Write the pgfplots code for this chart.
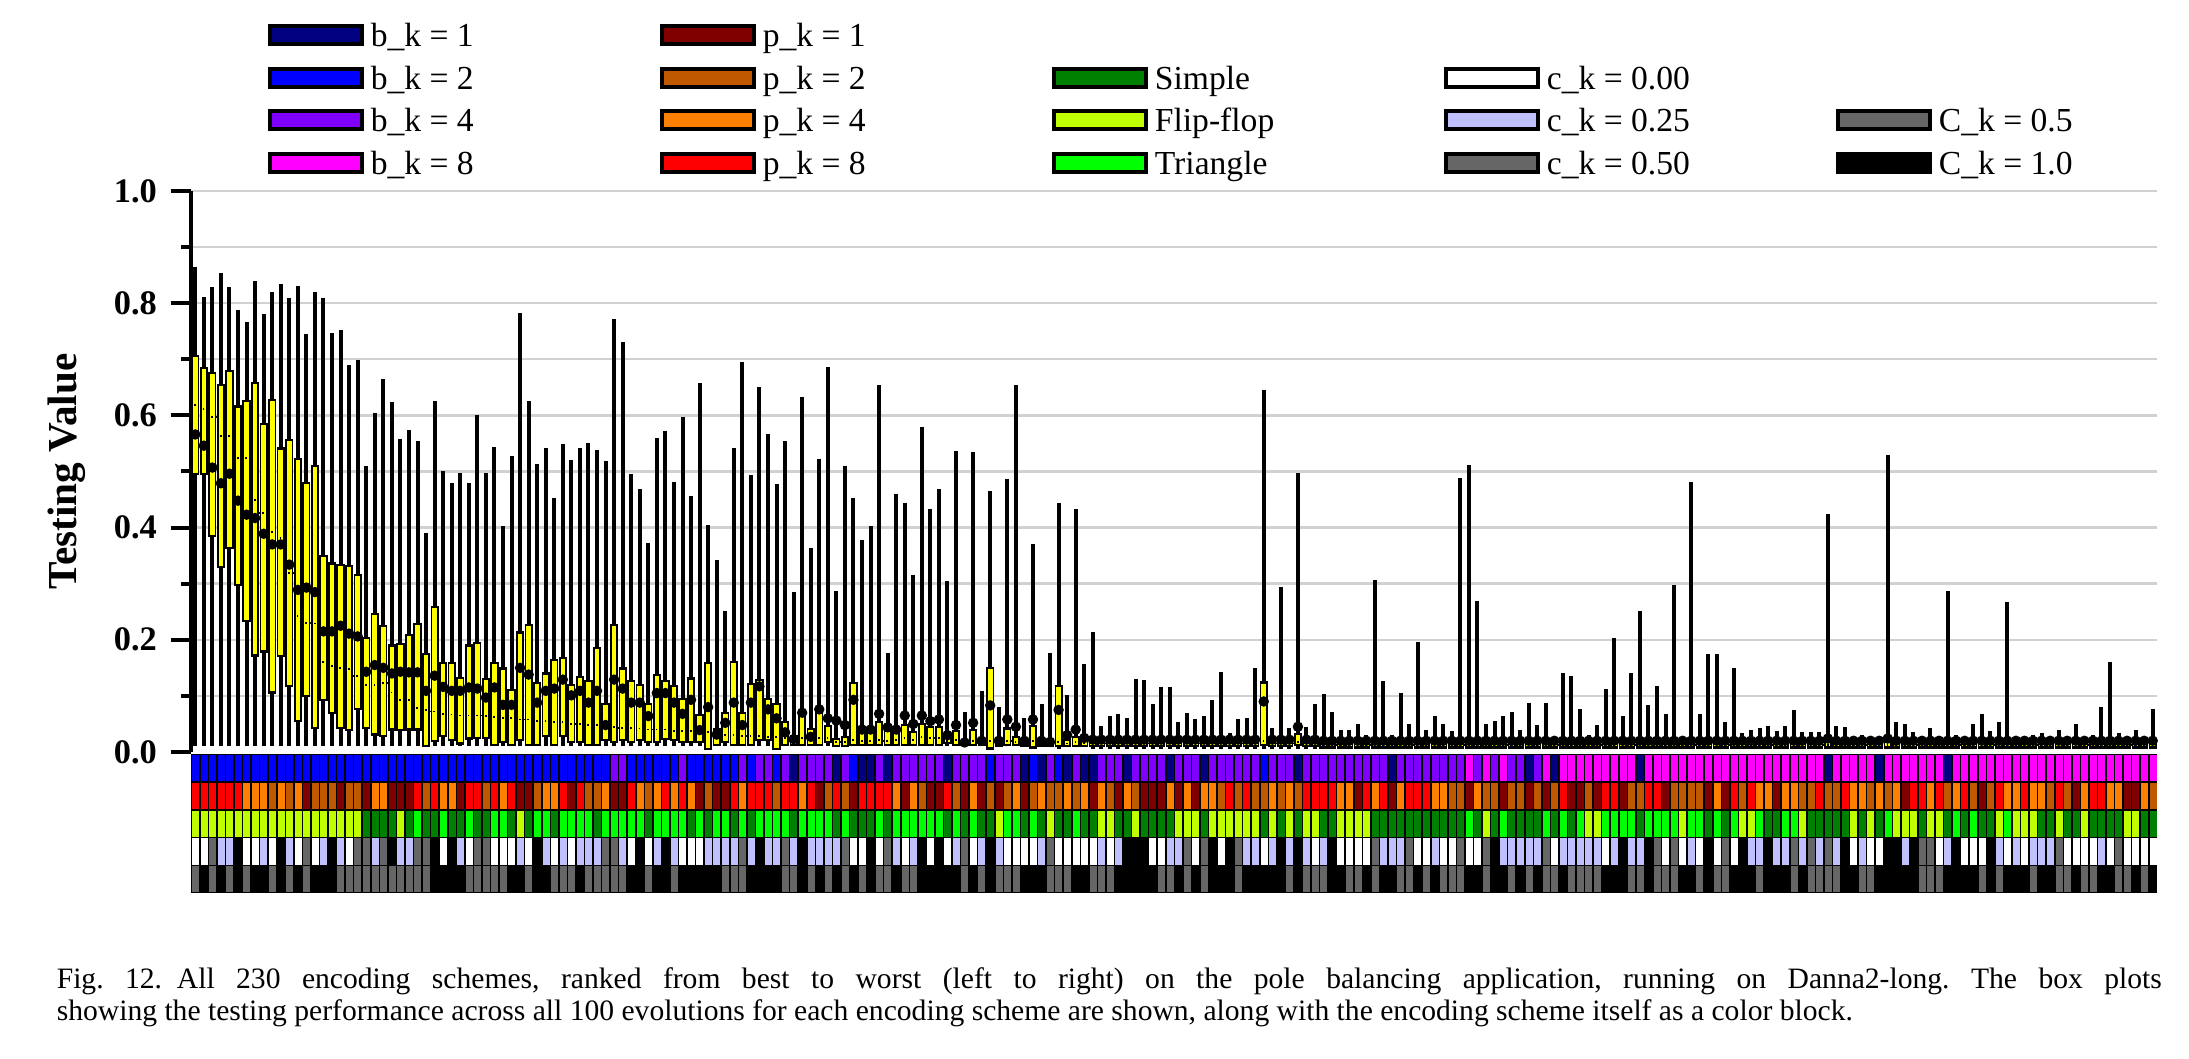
\documentclass[border=0pt]{standalone}
\usepackage{fontspec}
\setmainfont{Liberation Serif}
\usepackage{pgfplots}
\usepackage{pgfplotstable}
\pgfplotsset{compat=1.18}
\definecolor{k0}{HTML}{000080}
\definecolor{k1}{HTML}{0000FF}
\definecolor{k2}{HTML}{8000FF}
\definecolor{k3}{HTML}{FF00FF}
\definecolor{k4}{HTML}{800000}
\definecolor{k5}{HTML}{C05800}
\definecolor{k6}{HTML}{FF8000}
\definecolor{k7}{HTML}{FF0000}
\definecolor{k8}{HTML}{008000}
\definecolor{k9}{HTML}{C0FF00}
\definecolor{k10}{HTML}{00FF00}
\definecolor{k11}{HTML}{FFFFFF}
\definecolor{k12}{HTML}{C0C0FF}
\definecolor{k13}{HTML}{666666}
\definecolor{k14}{HTML}{000000}
\definecolor{boxy}{HTML}{FFFF00}
\pgfplotstableread{
x lw q1 q3 dl dt uw b p f c C
0 .01 .498 .704 .619 .566 .864 1 7 9 11 13
1 .01 .497 .683 .612 .546 .811 1 7 9 11 14
2 .01 .387 .674 .597 .507 .828 1 7 9 13 13
3 .01 .332 .653 .563 .479 .853 1 7 9 12 14
4 .01 .365 .677 .563 .496 .828 1 7 9 12 13
5 .01 .299 .614 .524 .448 .787 1 7 9 14 14
6 .01 .235 .624 .524 .423 .766 1 6 9 11 13
7 .01 .174 .656 .449 .417 .840 1 6 9 11 14
8 .01 .181 .583 .426 .389 .780 1 6 9 12 14
9 .01 .108 .626 .392 .370 .820 1 5 9 11 13
10 .01 .173 .539 .381 .370 .835 1 6 9 14 14
11 .01 .119 .554 .319 .334 .810 1 5 9 12 13
12 .01 .057 .520 .242 .289 .830 1 6 9 11 14
13 .01 .101 .477 .230 .293 .745 1 4 9 13 13
14 .01 .044 .508 .229 .285 .820 1 5 9 11 14
15 .01 .095 .348 .160 .215 .810 1 5 9 12 14
16 .01 .072 .334 .153 .215 .747 1 5 9 14 14
17 .01 .044 .332 .150 .225 .752 1 4 9 12 13
18 .01 .041 .329 .148 .211 .689 1 5 9 11 13
19 .01 .078 .314 .136 .206 .699 1 5 9 13 13
20 .01 .044 .201 .119 .143 .510 1 4 8 13 13
21 .01 .033 .244 .119 .155 .604 1 6 8 12 13
22 .01 .031 .222 .123 .150 .664 1 6 8 13 13
23 .01 .042 .188 .106 .140 .624 1 4 8 14 13
24 .01 .041 .191 .092 .143 .558 1 4 9 12 13
25 .01 .042 .207 .092 .142 .574 1 4 8 12 13
26 .01 .042 .226 .078 .142 .554 1 7 10 13 13
27 .01 .012 .172 .075 .109 .391 1 5 8 13 13
28 .01 .022 .256 .072 .136 .626 1 7 8 14 14
29 .01 .031 .157 .068 .116 .501 1 6 10 11 14
30 .01 .024 .156 .067 .109 .479 1 6 8 14 14
31 .01 .017 .130 .065 .109 .498 1 4 8 12 14
32 .01 .026 .188 .065 .115 .480 1 7 10 11 13
33 .01 .027 .192 .065 .113 .600 1 7 8 13 13
34 .01 .027 .128 .064 .097 .498 1 5 8 13 13
35 .01 .015 .156 .062 .115 .543 1 7 10 11 13
36 .01 .019 .147 .060 .084 .402 1 6 10 11 13
37 .01 .015 .109 .060 .084 .527 1 7 8 11 14
38 .01 .023 .211 .058 .150 .783 1 4 9 12 14
39 .01 .015 .224 .058 .138 .625 1 4 8 11 13
40 .01 .015 .121 .055 .088 .514 1 5 10 14 14
41 .01 .031 .138 .055 .109 .541 1 6 10 12 14
42 .01 .015 .162 .053 .113 .453 1 6 8 11 13
43 .01 .031 .166 .053 .129 .549 1 7 10 12 13
44 .01 .019 .117 .050 .101 .521 1 4 10 11 13
45 .01 .019 .132 .050 .109 .541 1 7 10 12 14
46 .01 .015 .125 .048 .088 .551 1 5 10 12 13
47 .01 .015 .184 .048 .109 .539 1 5 8 12 13
48 .01 .023 .084 .045 .048 .518 1 6 10 13 13
49 .01 .019 .225 .045 .129 .771 2 4 10 13 13
50 .01 .023 .147 .043 .113 .731 2 4 10 12 13
51 .01 .019 .125 .043 .088 .495 1 7 10 11 14
52 .01 .023 .117 .042 .088 .469 1 6 10 14 14
53 .01 .020 .084 .040 .064 .373 1 5 8 11 13
54 .01 .019 .135 .040 .105 .559 1 6 10 12 14
55 .01 .025 .125 .040 .105 .572 1 7 10 14 14
56 .01 .023 .115 .038 .088 .482 1 6 10 12 13
57 .01 .020 .093 .038 .068 .598 2 7 10 11 14
58 .01 .019 .129 .037 .093 .457 1 6 8 11 14
59 .01 .019 .064 .035 .039 .658 1 4 10 11 14
60 .005 .007 .156 .035 .080 .405 1 5 8 12 14
61 .01 .015 .039 .030 .031 .342 1 4 10 12 14
62 .01 .019 .068 .030 .052 .252 1 4 10 12 13
63 .01 .015 .158 .030 .088 .541 1 7 8 12 13
64 .01 .015 .068 .028 .048 .696 2 6 10 13 13
65 .01 .015 .119 .028 .088 .494 1 7 8 12 14
66 .01 .023 .127 .028 .117 .651 2 7 10 14 14
67 .01 .023 .093 .027 .076 .566 2 7 10 12 14
68 .005 .007 .084 .027 .060 .477 1 5 10 12 14
69 .01 .015 .052 .025 .035 .555 2 7 10 13 13
70 .01 .015 .027 .020 .023 .285 0 7 8 12 13
71 .01 .015 .064 .025 .070 .633 2 6 10 14 14
72 .01 .015 .039 .022 .027 .364 2 7 10 12 13
73 .01 .015 .068 .025 .076 .523 2 4 10 12 14
74 .01 .019 .045 .025 .060 .686 2 5 10 12 13
75 .01 .012 .022 .018 .056 .287 0 7 8 12 14
76 .01 .012 .025 .018 .048 .510 2 5 10 13 13
77 .01 .015 .121 .022 .093 .453 1 4 8 11 14
78 .01 .015 .040 .020 .040 .378 0 7 8 11 13
79 .01 .015 .040 .020 .040 .402 0 7 8 14 14
80 .01 .015 .052 .022 .068 .655 2 7 10 11 13
81 .01 .015 .035 .020 .044 .177 0 7 8 13 13
82 .01 .015 .035 .022 .040 .459 2 6 10 12 14
83 .01 .015 .046 .025 .065 .444 2 4 10 11 13
84 .01 .015 .034 .022 .050 .315 2 6 10 12 13
85 .01 .015 .048 .027 .065 .580 2 5 10 14 14
86 .01 .015 .043 .025 .055 .434 2 4 10 11 14
87 .01 .015 .043 .025 .058 .469 2 4 10 14 14
88 .01 .018 .025 .020 .030 .305 0 7 8 11 14
89 .01 .015 .035 .022 .048 .536 2 5 10 12 14
90 .01 .014 .018 .016 .017 .071 2 4 8 13 13
91 .01 .015 .037 .020 .052 .535 2 6 10 11 14
92 .01 .014 .016 .015 .020 .108 2 4 8 12 13
93 .005 .008 .148 .020 .083 .465 1 5 8 14 14
94 .01 .012 .020 .015 .020 .080 2 4 9 12 13
95 .01 .015 .040 .020 .058 .487 2 5 10 11 13
96 .01 .015 .025 .018 .045 .655 2 6 10 11 13
97 .01 .012 .018 .015 .020 .060 0 4 8 11 14
98 .005 .010 .045 .020 .058 .370 1 5 10 11 14
99 .01 .012 .018 .015 .020 .086 0 6 8 12 14
100 .01 .012 .016 .014 .018 .177 2 5 9 13 13
101 .005 .012 .115 .018 .075 .444 1 5 8 11 13
102 .01 .012 .020 .015 .030 .102 0 6 8 11 13
103 .01 .013 .025 .018 .040 .434 2 5 10 11 14
104 .01 .012 .018 .015 .025 .156 0 6 8 11 14
105 .005 .012 .018 .015 .022 .213 0 4 8 11 13
106 .005 .012 .018 .015 .022 .046 2 6 9 12 13
107 .005 .012 .018 .015 .022 .064 2 5 9 11 13
108 .005 .012 .018 .015 .022 .068 2 4 8 12 14
109 .005 .012 .018 .015 .022 .061 0 6 8 14 14
110 .005 .012 .018 .015 .022 .130 2 5 9 14 14
111 .005 .012 .018 .015 .022 .129 2 4 8 14 14
112 .005 .012 .018 .015 .022 .085 2 4 8 11 14
113 .005 .012 .018 .015 .022 .115 2 4 8 11 13
114 .005 .012 .018 .015 .022 .115 0 6 8 12 13
115 .005 .012 .018 .015 .022 .053 2 4 9 12 14
116 .005 .012 .018 .015 .022 .070 2 6 9 13 13
117 .005 .012 .018 .015 .022 .058 2 4 9 11 14
118 .005 .012 .018 .015 .022 .065 0 6 8 13 13
119 .005 .012 .018 .015 .022 .093 2 6 9 14 14
120 .005 .012 .018 .015 .022 .143 2 5 9 11 14
121 .005 .012 .018 .015 .022 .033 2 7 9 14 14
122 .005 .012 .018 .015 .022 .059 2 5 9 13 13
123 .005 .012 .018 .015 .022 .061 2 7 9 12 14
124 .005 .012 .018 .015 .022 .149 2 5 9 12 14
125 .005 .015 .122 .020 .090 .645 1 5 8 11 14
126 .005 .012 .018 .015 .022 .042 2 6 9 12 14
127 .005 .012 .018 .015 .022 .294 2 5 8 14 14
128 .005 .012 .018 .015 .022 .043 2 6 9 12 13
129 .005 .015 .030 .018 .045 .497 0 5 8 14 14
130 .005 .012 .018 .015 .022 .045 2 7 9 12 13
131 .005 .012 .018 .015 .022 .085 2 7 9 11 13
132 .005 .010 .017 .013 .020 .104 2 7 8 12 13
133 .005 .010 .017 .013 .020 .071 2 7 8 14 14
134 .005 .010 .017 .013 .020 .040 2 6 9 11 14
135 .005 .010 .017 .013 .020 .039 2 6 9 11 13
136 .005 .010 .017 .013 .020 .050 2 4 9 11 13
137 .005 .010 .017 .013 .020 .030 2 7 9 11 14
138 .005 .010 .017 .013 .020 .307 2 6 8 13 13
139 .005 .010 .017 .013 .020 .126 2 7 8 12 14
140 .005 .010 .017 .013 .020 .031 0 4 8 12 14
141 .005 .010 .017 .013 .020 .106 2 6 8 12 13
142 .005 .010 .017 .013 .020 .049 2 7 8 13 13
143 .005 .010 .017 .013 .020 .196 2 7 8 11 14
144 .005 .010 .017 .013 .020 .040 2 7 8 11 13
145 .005 .010 .017 .013 .020 .065 2 6 8 12 14
146 .005 .010 .017 .013 .020 .050 2 6 8 11 13
147 .005 .010 .017 .013 .020 .037 2 5 8 11 13
148 .005 .010 .017 .013 .020 .488 2 5 8 13 13
149 .005 .010 .017 .013 .020 .512 3 4 10 11 14
150 .005 .010 .017 .013 .020 .270 2 6 8 11 14
151 .005 .010 .017 .013 .020 .049 3 5 9 13 13
152 .005 .010 .017 .013 .020 .055 2 5 8 14 14
153 .005 .010 .017 .013 .020 .065 3 4 10 12 14
154 .005 .010 .017 .013 .020 .071 2 5 8 12 13
155 .005 .010 .017 .013 .020 .040 2 5 8 12 14
156 .005 .010 .017 .013 .020 .087 0 4 8 12 13
157 .005 .010 .017 .013 .020 .048 2 5 8 12 14
158 .005 .010 .017 .013 .020 .088 3 4 10 13 13
159 .005 .010 .017 .013 .020 .026 0 5 8 11 13
160 .005 .010 .017 .013 .020 .141 3 7 10 12 14
161 .005 .010 .017 .013 .020 .135 3 4 8 12 13
162 .005 .010 .017 .013 .020 .077 3 4 10 12 13
163 .005 .010 .017 .013 .020 .031 3 5 9 12 13
164 .005 .010 .017 .013 .020 .048 3 4 9 12 13
165 .005 .010 .017 .013 .020 .113 3 7 10 11 14
166 .005 .010 .017 .013 .020 .203 3 7 10 12 14
167 .005 .010 .017 .013 .020 .065 3 4 10 14 14
168 .005 .010 .017 .013 .020 .140 3 5 10 12 13
169 .005 .010 .017 .013 .020 .251 0 5 8 12 13
170 .005 .010 .017 .013 .020 .083 3 7 10 14 14
171 .005 .010 .017 .013 .020 .118 3 7 10 13 13
172 .005 .010 .017 .013 .020 .068 3 4 10 11 13
173 .005 .010 .017 .013 .020 .298 3 5 10 13 13
174 .005 .010 .017 .013 .020 .026 3 5 9 11 14
175 .005 .010 .017 .013 .020 .482 3 5 10 12 14
176 .005 .010 .017 .013 .020 .068 3 5 10 11 13
177 .005 .010 .017 .013 .020 .175 3 4 8 14 14
178 .005 .010 .017 .013 .020 .175 3 6 10 11 13
179 .005 .010 .017 .013 .020 .053 3 4 8 13 13
180 .005 .010 .017 .013 .020 .150 3 7 10 11 14
181 .005 .010 .017 .013 .020 .034 3 5 9 14 14
182 .005 .010 .017 .013 .020 .040 3 7 9 12 14
183 .005 .010 .017 .013 .020 .043 3 6 10 12 13
184 .005 .010 .017 .013 .020 .046 3 6 8 14 14
185 .005 .010 .017 .013 .020 .037 3 4 8 12 14
186 .005 .010 .017 .013 .020 .046 3 6 10 12 14
187 .005 .010 .017 .013 .020 .074 3 6 10 13 13
188 .005 .010 .017 .013 .020 .036 3 5 9 12 14
189 .005 .010 .017 .013 .020 .036 3 5 8 13 13
190 .005 .010 .017 .013 .020 .036 3 7 8 12 13
191 .005 .010 .017 .013 .024 .425 0 5 8 13 13
192 .005 .010 .017 .013 .020 .046 3 5 8 12 13
193 .005 .010 .017 .013 .020 .045 3 7 8 14 14
194 .005 .010 .017 .013 .020 .024 3 6 9 11 14
195 .005 .010 .017 .013 .020 .030 3 6 8 12 13
196 .005 .010 .017 .013 .020 .027 3 5 9 11 13
197 .005 .010 .017 .013 .020 .027 0 6 8 11 14
198 .005 .010 .017 .013 .024 .530 3 5 10 14 14
199 .005 .010 .017 .013 .020 .053 3 6 9 14 14
200 .005 .010 .017 .013 .020 .049 3 4 9 12 14
201 .005 .010 .017 .013 .020 .036 3 7 9 14 14
202 .005 .010 .017 .013 .020 .028 3 7 8 13 13
203 .005 .010 .017 .013 .020 .042 3 6 9 13 13
204 .005 .010 .017 .013 .020 .022 3 7 9 11 13
205 .005 .010 .017 .013 .020 .287 0 5 8 12 14
206 .005 .010 .017 .013 .020 .030 3 6 10 14 14
207 .005 .010 .017 .013 .020 .026 3 7 8 11 14
208 .005 .010 .017 .013 .020 .049 3 5 10 11 14
209 .005 .010 .017 .013 .020 .067 3 4 8 11 13
210 .005 .010 .017 .013 .020 .037 3 5 8 14 14
211 .005 .010 .017 .013 .020 .053 3 7 9 12 13
212 .005 .010 .017 .013 .020 .267 3 6 10 11 14
213 .005 .010 .017 .013 .020 .028 3 6 9 12 14
214 .005 .010 .017 .013 .020 .024 3 7 9 11 14
215 .005 .010 .017 .013 .020 .031 3 6 9 12 13
216 .005 .010 .017 .013 .020 .034 3 6 8 12 14
217 .005 .010 .017 .013 .020 .022 3 5 8 12 14
218 .005 .010 .017 .013 .020 .039 3 7 9 13 13
219 .005 .010 .017 .013 .020 .024 3 5 8 11 13
220 .005 .010 .017 .013 .020 .049 3 4 8 11 14
221 .005 .010 .017 .013 .020 .026 3 6 9 11 13
222 .005 .010 .017 .013 .020 .031 3 7 8 11 13
223 .005 .010 .017 .013 .020 .081 3 7 8 12 14
224 .005 .010 .017 .013 .020 .160 3 6 8 11 14
225 .005 .010 .017 .013 .020 .034 3 6 8 13 13
226 .005 .010 .017 .013 .020 .024 3 4 9 11 13
227 .005 .010 .017 .013 .020 .040 3 4 9 11 14
228 .005 .010 .017 .013 .020 .022 3 6 8 11 13
229 .005 .010 .017 .013 .020 .077 3 5 8 11 14
}\data
\pgfplotsset{
 cell/.style={only marks, scatter, scatter src=explicit symbolic, mark=square*, mark size=0.75pt,
  mark options={yscale=4.2, line width=0.1pt},
  scatter/classes={0={fill=k0,draw=k0},1={fill=k1,draw=k1},2={fill=k2,draw=k2},3={fill=k3,draw=k3},
   4={fill=k4,draw=k4},5={fill=k5,draw=k5},6={fill=k6,draw=k6},7={fill=k7,draw=k7},
   8={fill=k8,draw=k8},9={fill=k9,draw=k9},10={fill=k10,draw=k10},11={fill=k11,draw=k11},
   12={fill=k12,draw=k12},13={fill=k13,draw=k13},14={fill=k14,draw=k14}}},
 bar/.style={forget plot, draw=none, mark=none, error bars/.cd, y dir=plus, y explicit, error mark=none}
}
\newcommand{\lentry}[1]{\makebox[74pt][l]{\hspace{1.75pt}#1\strut}}
\begin{document}
\begin{tikzpicture}
\useasboundingbox (0,0) rectangle (547.25pt,264.75pt);
\begin{axis}[
 at={(47.75pt,76.75pt)}, anchor=south west,
 scale only axis, width=491.5pt, height=140.25pt,
 xmin=-0.5, xmax=229.5, ymin=0, ymax=1,
 axis x line=none, axis y line=left,
 axis line style={-, line width=1pt},
 ytick={0,0.2,0.4,0.6,0.8,1},
 minor ytick={0.1,0.2,0.3,0.4,0.5,0.6,0.7,0.8,0.9,1},
 yminorgrids, minor grid style={draw=black!18, line width=0.6pt},
 tick align=outside, major tick length=5pt, minor tick length=2.4pt,
 every tick/.style={black, line width=1pt},
 /pgf/number format/assume math mode=true,
 yticklabel style={font=\fontsize{8.6}{10}\selectfont\bfseries, /pgf/number format/.cd, fixed, fixed zerofill, precision=1},
 ylabel={Testing Value},
 ylabel style={font=\fontsize{10.3}{12}\selectfont\bfseries, at={(axis description cs:-0.0631,0.5)}, anchor=center},
 legend columns=5,
 legend style={at={(axis description cs:0.0387,1.311)}, anchor=north west, draw=none, fill=none,
   inner sep=0pt, column sep=0pt, row sep=1.8pt, font=\fontsize{8.4}{10.5}\selectfont, nodes={inner sep=0pt}},
 legend image code/.code={\draw[#1, draw=black, line width=1pt] (0pt,-2.25pt) rectangle (23pt,2.25pt);},
 legend cell align=left,
]
\addplot[bar, error bar style={draw=black, line width=1pt}]
  table[x=x, y=lw, y error plus expr=\thisrow{uw}-\thisrow{lw}] {\data};
\addplot[bar, error bar style={draw=black, line width=2.05pt}]
  table[x=x, y expr=\thisrow{q1}-0.0038, y error plus expr=\thisrow{q3}-\thisrow{q1}+0.0076] {\data};
\addplot[bar, error bar style={draw=boxy, line width=1.15pt}]
  table[x=x, y=q1, y error plus expr=\thisrow{q3}-\thisrow{q1}] {\data};
\addplot[forget plot, only marks, mark=-, mark size=1.05pt, mark options={black, line width=0.45pt, dash pattern=on 0.45pt off 0.45pt}]
  table[x=x, y=dl] {\data};
\addplot[forget plot, only marks, mark=*, mark size=1.1pt, black] table[x=x, y=dt] {\data};
\addlegendimage{fill=k0}\addlegendentry{\lentry{b\_k = 1}}
\addlegendimage{fill=k4}\addlegendentry{\lentry{p\_k = 1}}
\addlegendimage{empty legend}\addlegendentry{\lentry{}}
\addlegendimage{empty legend}\addlegendentry{\lentry{}}
\addlegendimage{empty legend}\addlegendentry{\lentry{}}
\addlegendimage{fill=k1}\addlegendentry{\lentry{b\_k = 2}}
\addlegendimage{fill=k5}\addlegendentry{\lentry{p\_k = 2}}
\addlegendimage{fill=k8}\addlegendentry{\lentry{Simple}}
\addlegendimage{fill=k11}\addlegendentry{\lentry{c\_k = 0.00}}
\addlegendimage{empty legend}\addlegendentry{\lentry{}}
\addlegendimage{fill=k2}\addlegendentry{\lentry{b\_k = 4}}
\addlegendimage{fill=k6}\addlegendentry{\lentry{p\_k = 4}}
\addlegendimage{fill=k9}\addlegendentry{\lentry{Flip-flop}}
\addlegendimage{fill=k12}\addlegendentry{\lentry{c\_k = 0.25}}
\addlegendimage{fill=k13}\addlegendentry{\lentry{C\_k = 0.5}}
\addlegendimage{fill=k3}\addlegendentry{\lentry{b\_k = 8}}
\addlegendimage{fill=k7}\addlegendentry{\lentry{p\_k = 8}}
\addlegendimage{fill=k10}\addlegendentry{\lentry{Triangle}}
\addlegendimage{fill=k13}\addlegendentry{\lentry{c\_k = 0.50}}
\addlegendimage{fill=k14}\addlegendentry{\lentry{C\_k = 1.0}}
\end{axis}
\begin{axis}[
 at={(47.75pt,76.25pt)}, anchor=north west,
 scale only axis, width=491.5pt, height=34.75pt,
 xmin=-0.5, xmax=229.5, ymin=-0.5, ymax=4.5,
 axis line style={draw=none}, xtick=\empty, ytick=\empty,
 axis background/.style={fill=black}, clip=false,
]
\addplot[cell] table[x=x, y expr=4, meta=b] {\data};
\addplot[cell] table[x=x, y expr=3, meta=p] {\data};
\addplot[cell] table[x=x, y expr=2, meta=f] {\data};
\addplot[cell] table[x=x, y expr=1, meta=c] {\data};
\addplot[cell] table[x=x, y expr=0, meta=C] {\data};
\end{axis}
\node[anchor=north west, inner sep=0pt, text width=526.25pt, align=justify,
  font=\fontsize{7.4}{7.9}\selectfont] at (14pt,23pt)
 {\lineskiplimit=-5pt\relax\frenchspacing Fig. 12.\enskip All 230 encoding schemes, ranked from best to worst (left to right) on the pole balancing application, running on Danna2-long. The box plots\linebreak showing the testing performance across all 100 evolutions for each encoding scheme are shown, along with the encoding scheme itself as a color block.};
\end{tikzpicture}
\end{document}
